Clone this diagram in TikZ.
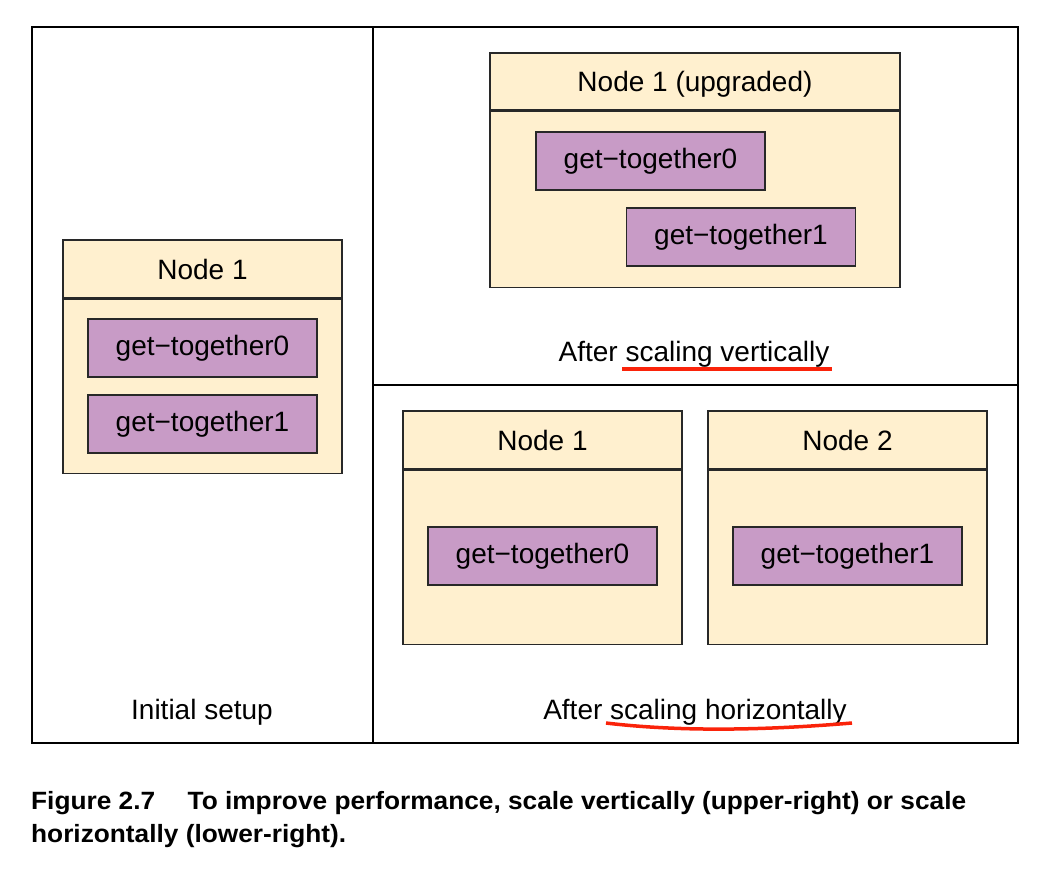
\documentclass[tikz,border=0pt]{standalone}
\usepackage{fontspec}
\setmainfont{Liberation Sans}
\newfontfamily\capfont[FakeStretch=1.05]{Liberation Sans}
\usetikzlibrary{positioning}

\definecolor{cream}{RGB}{255,240,207}
\definecolor{purp}{RGB}{200,155,198}
\definecolor{edge}{RGB}{40,40,40}
\definecolor{marker}{RGB}{250,35,10}
\newcommand{\lbl}{\fontsize{28}{34}\selectfont}

\begin{document}
\begin{tikzpicture}[x=1pt, y=-1pt,
  hdr/.style = {shape=rectangle, draw=edge, fill=cream, line width=1.2pt,
    minimum width=279pt, minimum height=58pt, inner sep=0pt, text depth=0pt, font=\lbl},
  body/.style = {shape=rectangle, draw=edge, fill=cream, line width=1.2pt,
    minimum width=279pt, minimum height=174pt, inner sep=0pt},
  shard/.style = {shape=rectangle, draw=edge, fill=purp, line width=1.2pt,
    minimum width=229pt, minimum height=58pt, inner sep=0pt, font=\lbl},
  caption/.style = {font=\lbl},
  underline/.style = {draw=marker, line width=3.5pt}]
  \useasboundingbox (0,0) rectangle (1042,870);

  % panels
  \draw[line width=1.4pt] (32,27) rectangle (1018,743);
  \draw[line width=1.4pt] (373,27) -- (373,743);
  \draw[line width=1.4pt] (373,385) -- (1018,385);

  % initial setup
  \node[hdr] (n1h) at (202.5,269) {Node 1};
  \node[body, below=0pt of n1h] (n1b) {};
  \node[shard] (a0) at (202.5,348) {get−together0};
  \node[shard] (a1) at (202.5,424) {get−together1};
  \node[caption] (initial) at (202,712) {Initial setup};

  % vertical scaling
  \node[hdr, minimum width=410pt, minimum height=57pt] (uph) at (695,81.5) {Node 1 (upgraded)};
  \node[body, minimum width=410pt, minimum height=176pt, below=0pt of uph] (upb) {};
  \node[shard] (v0) at (650.5,161) {get−together0};
  \node[shard] (v1) at (741,237) {get−together1};
  \node[caption] (vert) at (694,354) {After scaling vertically};
  \draw[underline] (622,369) -- (832,369);

  % horizontal scaling
  \node[hdr] (h1h) at (542.5,440) {Node 1};
  \node[body, below=0pt of h1h] (h1b) {};
  \node[hdr] (h2h) at (847.5,440) {Node 2};
  \node[body, below=0pt of h2h] (h2b) {};
  \node[shard] (h0) at (542.5,556) {get−together0};
  \node[shard] (h1) at (847.5,556) {get−together1};
  \node[caption] (horiz) at (695,712) {After scaling horizontally};
  \draw[underline] (606,723) .. controls (690,733) and (780,729) .. (852,723);

  % figure caption
  \node[anchor=base west, align=left, inner sep=0pt,
    font={\capfont\bfseries\fontsize{25}{33}\selectfont}] (fig) at (31,842)
    {Figure 2.7\hspace{1.3em}To improve performance, scale vertically (upper-right) or scale\\
     horizontally (lower-right).};
\end{tikzpicture}
\end{document}
